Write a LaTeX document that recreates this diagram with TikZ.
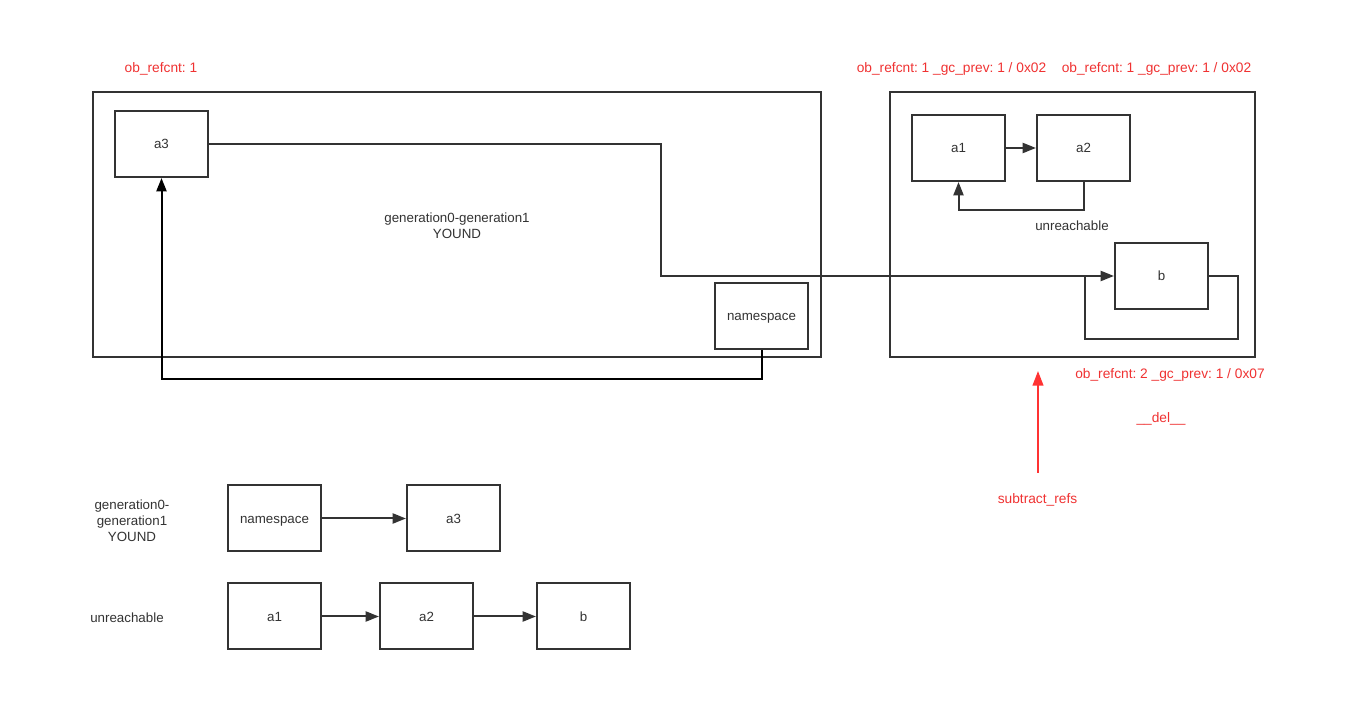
\documentclass[tikz,border=0pt]{standalone}
\usepackage{fontspec}
\setmainfont{Liberation Sans}
\usetikzlibrary{arrows.meta}
\frenchspacing
\definecolor{ink}{RGB}{51,51,51}
\definecolor{redt}{RGB}{240,50,50}
\definecolor{reda}{RGB}{255,51,51}
\tikzset{
  box/.style={draw=ink, line width=1.5pt, minimum width=69.75pt, minimum height=49.5pt, inner sep=0pt, text=ink, font=\fontsize{10}{11}\selectfont, text height=8pt, text depth=1pt},
  frame/.style={draw=ink, line width=1.5pt, inner sep=0pt},
  lbl/.style={text=ink, font=\fontsize{10}{12}\selectfont, align=center, inner sep=0pt},
  rlbl/.style={text=redt, font=\fontsize{10.3}{12}\selectfont, align=center, inner sep=0pt},
  conn/.style={draw=ink, line width=1.5pt},
  arr/.style={conn, -{Triangle[length=10pt,width=7.5pt]}},
  barr/.style={draw=black, line width=1.5pt, -{Triangle[length=10pt,width=7.5pt]}},
}
\begin{document}
\begin{tikzpicture}[x=0.75pt,y=-0.75pt]
\useasboundingbox[fill=white] (0,0) rectangle (1354,712);
% top-left frame
\node[frame, minimum width=546pt, minimum height=198.75pt] (young) at (457,224.5) {};
\node[box] (a3) at (161.5,144) {a3};
\node[box] (ns) at (761.5,316) {namespace};
\node[lbl] (ylbl) at (457,225.5) {generation0-generation1\\YOUND};
\node[rlbl] (rc1) at (161,69) {ob\_refcnt: 1};
% top-right frame
\node[frame, minimum width=273.75pt, minimum height=198.75pt] (unr) at (1072.5,224.5) {};
\node[box] (ra1) at (958.5,148) {a1};
\node[box] (ra2) at (1083.5,148) {a2};
\node[box] (rb) at (1161.5,276) {b};
\node[lbl] (ulbl) at (1072,226) {unreachable};
\node[rlbl] (rc2) at (951.5,69) {ob\_refcnt: 1 \_gc\_prev: 1 / 0x02};
\node[rlbl] (rc3) at (1156.5,69) {ob\_refcnt: 1 \_gc\_prev: 1 / 0x02};
\node[rlbl] (rc4) at (1170,375) {ob\_refcnt: 2 \_gc\_prev: 1 / 0x07};
\node[rlbl] (del) at (1161,418.5) {\_\_del\_\_};
\node[rlbl] (sub) at (1037.5,499.5) {subtract\_refs};
\coordinate (subtop) at (1038,371);
\coordinate (subbot) at (1038,473);
% connectors top
\draw[arr] (ra1.east) -- (ra2.west);
\draw[arr] (ra2.south) -- (1083.5,210) -- (958.5,210) -- (ra1.south);
\draw[arr] (a3.east) -- (661,144) -- (661,276) -- (rb.west);
\draw[conn] (rb.east) -- (1238,276) -- (1238,339) -- (1085,339) -- (1085,276);
\draw[barr] (ns.south) -- (761.5,379) -- (161.5,379) -- (a3.south);
\draw[draw=reda, line width=1.5pt, -{Triangle[length=11pt,width=8pt]}] (subbot) -- (subtop);
% bottom rows
\node[lbl] (bl1) at (132,520.5) {generation0-\\generation1\\YOUND};
\node[box] (bns) at (274.5,518.5) {namespace};
\node[box] (ba3) at (453.5,518.5) {a3};
\draw[arr] (bns.east) -- (ba3.west);
\node[lbl] (bl2) at (127,618) {unreachable};
\node[box] (ba1) at (274.5,616.5) {a1};
\node[box] (ba2) at (426.5,616.5) {a2};
\node[box] (bb) at (583.5,616.5) {b};
\draw[arr] (ba1.east) -- (ba2.west);
\draw[arr] (ba2.east) -- (bb.west);
\end{tikzpicture}
\end{document}
